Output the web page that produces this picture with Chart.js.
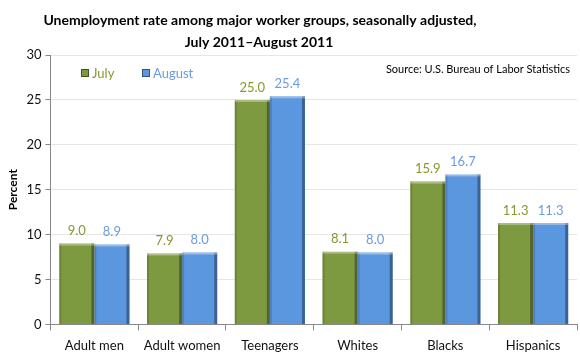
<!DOCTYPE html>
<html><head><meta charset="utf-8">
<script src="https://cdn.jsdelivr.net/npm/chart.js@4/dist/chart.umd.min.js"></script>
<style>html,body{margin:0;padding:0;background:#fff}#wrap{width:580px;height:363px}</style>
</head><body><div id="wrap"><canvas id="c" width="580" height="363"></canvas></div>
<script>
const categories = ["Adult men", "Adult women", "Teenagers", "Whites", "Blacks", "Hispanics"];
const julyValues = [9.0, 7.9, 25.0, 8.1, 15.9, 11.3];
const augustValues = [8.9, 8.0, 25.4, 8.0, 16.7, 11.3];
const yTicks = [0, 5, 10, 15, 20, 25, 30];
const seriesNames = ["July", "August"];
const titleLines = ["Unemployment rate among major worker groups, seasonally adjusted,", "July 2011\u2013August 2011"];
const sourceText = "Source: U.S. Bureau of Labor Statistics";

const FONT = "Lato, 'Open Sans', sans-serif";
const GREEN = "#7E9A41", BLUE = "#5B97DF";
const GREEN_TXT = "#8A9630", BLUE_TXT = "#6A9CE0";

const extras = {
  id: "extras",
  afterDatasetsDraw(chart) {
    const ctx = chart.ctx;
    chart.data.datasets.forEach((ds, i) => {
      const meta = chart.getDatasetMeta(i);
      meta.data.forEach(bar => {
        const x0 = bar.x - bar.width / 2, x1 = bar.x + bar.width / 2;
        const yT = bar.y, yB = bar.base;
        ctx.save();
        ctx.fillStyle = "rgba(0,0,0,0.35)";
        ctx.fillRect(x1 - 3, yT, 3, yB - yT);
        ctx.fillStyle = "rgba(0,0,0,0.15)";
        ctx.fillRect(x0, yT, 2, yB - yT);
        ctx.fillStyle = "rgba(255,255,255,0.35)";
        ctx.fillRect(x0, yT, x1 - x0, 2);
        ctx.restore();
      });
    });
    ctx.save();
    ctx.font = "13px " + FONT;
    ctx.textAlign = "center";
    ctx.textBaseline = "bottom";
    chart.data.datasets.forEach((ds, i) => {
      const meta = chart.getDatasetMeta(i);
      ctx.fillStyle = i === 0 ? GREEN_TXT : BLUE_TXT;
      meta.data.forEach((bar, j) => {
        ctx.fillText(ds.data[j].toFixed(1), bar.x, bar.y - 6);
      });
    });
    ctx.restore();
  },
  afterDraw(chart) {
    const ctx = chart.ctx;
    ctx.save();
    ctx.fillStyle = "#000";
    ctx.font = "bold 14px " + FONT;
    ctx.textAlign = "center";
    ctx.textBaseline = "middle";
    ctx.fillText(titleLines[0], 260, 20);
    ctx.fillText(titleLines[1], 259, 42);
    const items = [[GREEN, GREEN_TXT, 81], [BLUE, BLUE_TXT, 142]];
    ctx.font = "13px " + FONT;
    ctx.textAlign = "left";
    items.forEach((it, i) => {
      const x = it[2], y = 69;
      ctx.fillStyle = it[0];
      ctx.fillRect(x, y, 8, 8);
      ctx.strokeStyle = "rgba(0,0,0,0.45)";
      ctx.lineWidth = 1;
      ctx.strokeRect(x + 0.5, y + 0.5, 7, 7);
      ctx.fillStyle = it[1];
      ctx.fillText(seriesNames[i], x + 11, y + 5);
    });
    ctx.fillStyle = "#000";
    ctx.font = "11px " + FONT;
    ctx.textAlign = "right";
    ctx.fillText(sourceText, 570, 69);
    ctx.restore();
  }
};

new Chart(document.getElementById("c"), {
  type: "bar",
  data: {
    labels: categories,
    datasets: [
      { label: seriesNames[0], data: julyValues, backgroundColor: GREEN, borderWidth: 0 },
      { label: seriesNames[1], data: augustValues, backgroundColor: BLUE, borderWidth: 0 }
    ]
  },
  options: {
    responsive: false,
    animation: false,
    devicePixelRatio: 1,
    layout: { padding: { top: 55, right: 3, left: 4, bottom: 1 } },
    datasets: { bar: { barPercentage: 1.0, categoryPercentage: 0.8 } },
    plugins: { legend: { display: false }, title: { display: false }, tooltip: { enabled: false } },
    scales: {
      x: {
        grid: { display: true, drawOnChartArea: false, drawTicks: true, tickLength: 6, color: "#888", offset: true },
        border: { color: "#888" },
        ticks: { font: { family: FONT, size: 13 }, color: "#111", padding: 8 }
      },
      y: {
        min: 0, max: 30,
        afterBuildTicks(axis) { axis.ticks = yTicks.map(v => ({ value: v })); },
        grid: { color: "#e6e6e6", tickLength: 5, tickColor: "#888" },
        border: { color: "#888" },
        ticks: { font: { family: FONT, size: 13 }, color: "#111", padding: 4 },
        title: { display: true, text: "Percent", font: { family: FONT, size: 12, weight: "bold" }, color: "#000", padding: 2 }
      }
    }
  },
  plugins: [extras]
});
</script></body></html>
